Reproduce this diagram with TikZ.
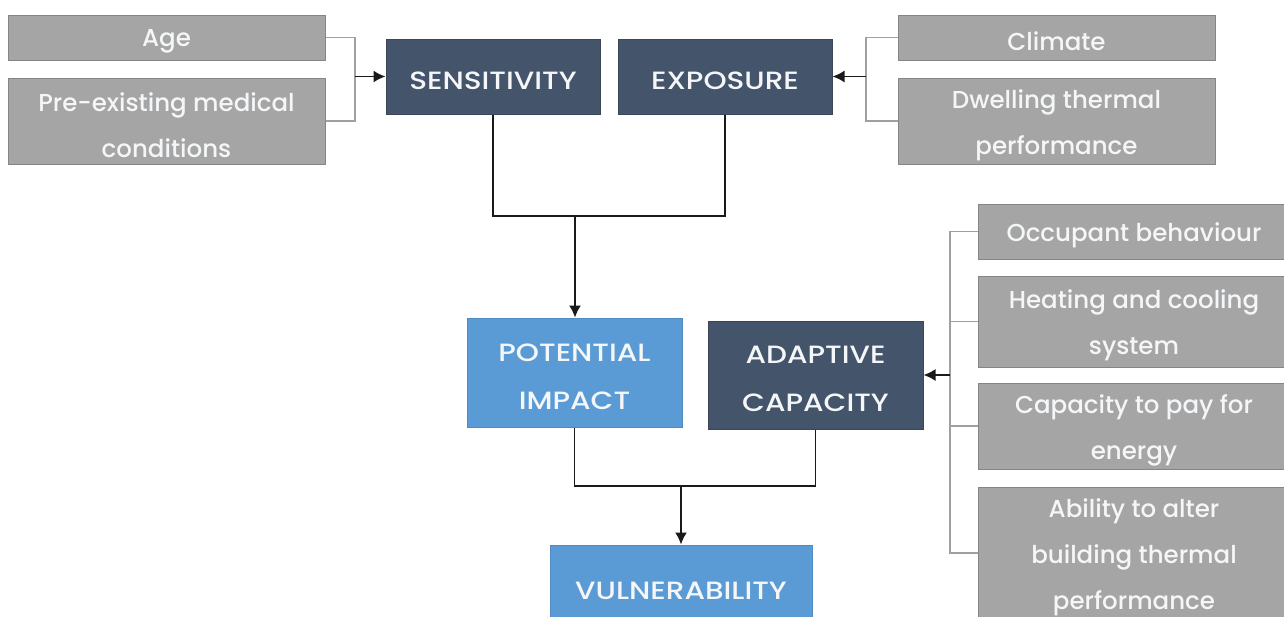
\documentclass[tikz,border=0pt]{standalone}
\usepackage{fontspec}
\setmainfont{Poppins Medium}
\newfontfamily\capsfont{Poppins Medium}[FakeStretch=1.18]
\usetikzlibrary{arrows.meta}
\definecolor{navy}{HTML}{44546A}
\definecolor{navyedge}{HTML}{3A4759}
\definecolor{skyblue}{HTML}{5B9BD5}
\definecolor{skyedge}{HTML}{4F8BC2}
\definecolor{boxgray}{HTML}{A5A5A5}
\definecolor{boxgrayedge}{HTML}{858585}
\definecolor{bracketgray}{HTML}{A0A0A0}
\definecolor{linkdark}{HTML}{1A1A1A}
\definecolor{lighttext}{HTML}{F4F6F8}
\begin{document}
\begin{tikzpicture}[x=1pt,y=-1pt,
  % the caption of each box sits a little below the box centre
  boxtext/.style={inner sep=0pt, align=center, text=lighttext, yshift=-4pt},
  box/.style={draw, line width=1pt, inner sep=0pt},
  factor/.style={box, fill=boxgray, draw=boxgrayedge,
    label={[boxtext, font=\fontsize{24.5}{46}\selectfont]center:#1}},
  core/.style={box, fill=navy, draw=navyedge,
    label={[boxtext, font=\capsfont\fontsize{25}{48}\selectfont]center:#1}},
  result/.style={box, fill=skyblue, draw=skyedge,
    label={[boxtext, font=\capsfont\fontsize{25}{48}\selectfont]center:#1}},
  bracket/.style={draw=bracketgray, line width=1.4pt},
  link/.style={draw=linkdark, line width=1.7pt},
  arrow/.style={link, -{Latex[length=12pt,width=12pt]}}]
\useasboundingbox (0,0) rectangle (1284,616);
\clip (0,0) rectangle (1284,616);
\fill[white] (0,0) rectangle (1284,616);

% sensitivity factors
\node[factor={Age}, minimum width=317pt, minimum height=45pt] (age) at (166.5,37.5) {};
\node[factor={Pre-existing medical\\conditions}, minimum width=317pt, minimum height=86pt] (pre) at (166.5,121) {};

% exposure factors
\node[factor={Climate}, minimum width=317pt, minimum height=45pt] (climate) at (1056.5,37.5) {};
\node[factor={Dwelling thermal\\performance}, minimum width=317pt, minimum height=86pt] (dwell) at (1056.5,121) {};

% main components
\node[core={SENSITIVITY}, minimum width=214pt, minimum height=75pt] (sens) at (493,76.5) {};
\node[core={EXPOSURE}, minimum width=214pt, minimum height=75pt] (expo) at (725,76.5) {};
\node[result={POTENTIAL\\IMPACT}, minimum width=215pt, minimum height=109pt] (pot) at (574.5,372.5) {};
\node[core={ADAPTIVE\\CAPACITY}, minimum width=215pt, minimum height=108pt] (adapt) at (815.5,375) {};
\node[result={VULNERABILITY}, minimum width=262pt, minimum height=84pt] (vuln) at (681,587) {};

% adaptive capacity factors
\node[factor={Occupant behaviour}, minimum width=312pt, minimum height=55pt] (occ) at (1134,231.5) {};
\node[factor={Heating and cooling\\system}, minimum width=312pt, minimum height=91pt] (heat) at (1134,321.5) {};
\node[factor={Capacity to pay for\\energy}, minimum width=312pt, minimum height=86pt] (cap) at (1134,426) {};
\node[factor={Ability to alter\\building thermal\\performance}, minimum width=312pt, minimum height=132pt] (abil) at (1134,553) {};

% junction points
\coordinate (lj) at (355,76.5);
\coordinate (rj) at (866,76.5);
\coordinate (aj) at (950,375);
\coordinate (m1) at (575,216);
\coordinate (m2) at (681,486);

% brackets gathering the factors
\draw[bracket] (age.east) -| (lj) |- (pre.east);
\draw[arrow] (lj) -- (sens.west);
\draw[bracket] (climate.west) -| (rj) |- (dwell.west);
\draw[arrow] (rj) -- (expo.east);
\draw[bracket] (occ.west) -| (aj) |- (abil.west);
\draw[bracket] (heat.west) -- (heat.west -| aj);
\draw[bracket] (cap.west) -- (cap.west -| aj);
\draw[arrow] (aj) -- (adapt.east);

% flow between components
\draw[link] (sens.south) |- (m1);
\draw[link] (expo.south) |- (m1);
\draw[arrow] (m1) -- (pot.north -| m1);
\draw[link] (pot.south) |- (m2);
\draw[link] (adapt.south) |- (m2);
\draw[arrow] (m2) -- (vuln.north);
\end{tikzpicture}
\end{document}
